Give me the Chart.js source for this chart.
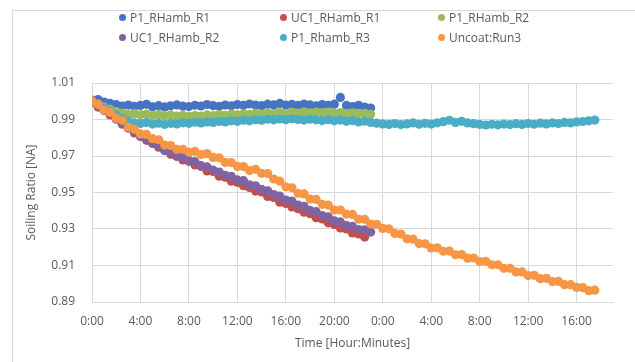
<!DOCTYPE html>
<html>
<head>
<meta charset="utf-8">
<script src="https://cdn.jsdelivr.net/npm/chart.js@4"></script>
<style>
  body { margin: 0; background: #fff; }
  #wrap { position: relative; width: 635px; height: 362px; overflow: hidden; font-family: "Open Sans", sans-serif; }
  #frame { position: absolute; left: 12px; top: 10px; width: 700px; height: 400px; border-left: 1px solid #d9d9d9; border-top: 1px solid #d9d9d9; }
  #legende { position: absolute; left: 119px; top: 7px; display: grid; grid-template-columns: 161px 158px 158px; grid-auto-rows: 20px; font-size: 12px; color: #595959; }
  .item { display: flex; align-items: center; white-space: nowrap; }
  .bola { width: 7px; height: 7px; border-radius: 50%; margin-right: 4px; }
  canvas { position: absolute; left: 0; top: 0; }
</style>
</head>
<body>
<div id="wrap">
  <div id="frame"></div>
  <canvas id="grafico" width="635" height="362"></canvas>
  <div id="legende"></div>
</div>
<script>
// leituras a cada meia hora (horas desde o início)
const passoHoras = 0.5;

const nomes = ["P1_RHamb_R1", "UC1_RHamb_R1", "P1_RHamb_R2", "UC1_RHamb_R2", "P1_Rhamb_R3", "Uncoat:Run3"];
const cores = ["#4674C1", "#C0504D", "#9BBB59", "#8064A2", "#4BACC6", "#F79646"];

const p1R1 = [1.0006, 1.0009, 0.9996, 0.9988, 0.9981, 0.9974, 0.9979, 0.9972, 0.9977, 0.9983,
  0.9970, 0.9976, 0.9969, 0.9975, 0.9980, 0.9973, 0.9971, 0.9978, 0.9974, 0.9982,
  0.9976, 0.9972, 0.9979, 0.9975, 0.9982, 0.9977, 0.9985, 0.9979, 0.9976, 0.9984,
  0.9980, 0.9988, 0.9979, 0.9983, 0.9977, 0.9985, 0.9980, 0.9975, 0.9982, 0.9978,
  0.9984, 1.0021, 0.9977, 0.9971, 0.9978, 0.9968, 0.9963];

const uc1R1 = [0.9995, 0.9968, 0.9953, 0.9925, 0.9906, 0.9874, 0.9855, 0.9826, 0.9809, 0.9786,
  0.9772, 0.9748, 0.9731, 0.9709, 0.9698, 0.9678, 0.9671, 0.9651, 0.9643, 0.9618,
  0.9615, 0.9589, 0.9584, 0.9562, 0.9556, 0.9537, 0.9528, 0.9508, 0.9503, 0.9478,
  0.9473, 0.9447, 0.9440, 0.9421, 0.9411, 0.9392, 0.9384, 0.9362, 0.9355, 0.9334,
  0.9325, 0.9306, 0.9300, 0.9278, 0.9273, 0.9256];

const p1R2 = [1.0000, 0.9985, 0.9968, 0.9955, 0.9943, 0.9935, 0.9928, 0.9932, 0.9926, 0.9930,
  0.9922, 0.9927, 0.9920, 0.9925, 0.9918, 0.9923, 0.9917, 0.9922, 0.9919, 0.9925,
  0.9921, 0.9927, 0.9923, 0.9929, 0.9925, 0.9931, 0.9928, 0.9934, 0.9930, 0.9936,
  0.9932, 0.9938, 0.9934, 0.9939, 0.9935, 0.9940, 0.9936, 0.9941, 0.9937, 0.9940,
  0.9935, 0.9938, 0.9933, 0.9936, 0.9931, 0.9934, 0.9929];

const uc1R2 = [0.9998, 0.9979, 0.9950, 0.9934, 0.9902, 0.9884, 0.9853, 0.9836, 0.9807, 0.9796,
  0.9769, 0.9759, 0.9730, 0.9723, 0.9699, 0.9694, 0.9675, 0.9669, 0.9647, 0.9640,
  0.9623, 0.9612, 0.9594, 0.9588, 0.9569, 0.9565, 0.9542, 0.9537, 0.9517, 0.9509,
  0.9489, 0.9480, 0.9459, 0.9453, 0.9431, 0.9424, 0.9402, 0.9395, 0.9374, 0.9366,
  0.9345, 0.9339, 0.9319, 0.9314, 0.9297, 0.9296, 0.9283];

const p1R3 = [0.9996, 0.9982, 0.9962, 0.9945, 0.9926, 0.9905, 0.9890, 0.9882, 0.9878, 0.9883,
  0.9875, 0.9880, 0.9873, 0.9879, 0.9876, 0.9882, 0.9879, 0.9885, 0.9881, 0.9887,
  0.9884, 0.9890, 0.9887, 0.9893, 0.9890, 0.9896, 0.9893, 0.9899, 0.9896, 0.9902,
  0.9898, 0.9903, 0.9899, 0.9904, 0.9900, 0.9897, 0.9902, 0.9898, 0.9894, 0.9899,
  0.9893, 0.9897, 0.9890, 0.9894, 0.9887, 0.9891, 0.9884, 0.9880, 0.9876, 0.9873,
  0.9878, 0.9872, 0.9876, 0.9881, 0.9874, 0.9879, 0.9875, 0.9882, 0.9888, 0.9896,
  0.9884, 0.9890, 0.9881, 0.9877, 0.9873, 0.9870, 0.9874, 0.9871, 0.9875, 0.9872,
  0.9877, 0.9873, 0.9878, 0.9874, 0.9880, 0.9876, 0.9881, 0.9878, 0.9884, 0.9881,
  0.9887, 0.9889, 0.9893, 0.9897];

const uncoat = [1.0002, 0.9983, 0.9952, 0.9939, 0.9907, 0.9896, 0.9858, 0.9847, 0.9821, 0.9818,
  0.9795, 0.9789, 0.9760, 0.9757, 0.9736, 0.9737, 0.9720, 0.9725, 0.9708, 0.9713,
  0.9692, 0.9690, 0.9665, 0.9664, 0.9643, 0.9642, 0.9620, 0.9627, 0.9605, 0.9604,
  0.9574, 0.9562, 0.9531, 0.9526, 0.9496, 0.9492, 0.9464, 0.9462, 0.9435, 0.9431,
  0.9404, 0.9404, 0.9382, 0.9380, 0.9354, 0.9353, 0.9327, 0.9326, 0.9303, 0.9301,
  0.9276, 0.9272, 0.9246, 0.9244, 0.9220, 0.9219, 0.9196, 0.9197, 0.9178, 0.9179,
  0.9159, 0.9160, 0.9140, 0.9141, 0.9122, 0.9123, 0.9104, 0.9104, 0.9085, 0.9085,
  0.9065, 0.9065, 0.9045, 0.9046, 0.9028, 0.9030, 0.9012, 0.9013, 0.8995, 0.8995,
  0.8980, 0.8979, 0.8962, 0.8965];

const series = [p1R1, uc1R1, p1R2, uc1R2, p1R3, uncoat];
// ordem de desenho: a última série do Excel fica por cima
const ordem = [5, 4, 3, 2, 1, 0];

// eixos
const eixoX = { min: 0, max: 43, passo: 4 };
const eixoY = { min: 0.89, max: 1.01, passo: 0.02 };
const tituloX = "Time [Hour:Minutes]";
const tituloY = "Soiling Ratio [NA]";

function pontos(valores) {
  return valores.map((v, i) => ({ x: i * passoHoras, y: v }));
}

const fonte = { family: "'Open Sans', sans-serif", size: 12 };
const cinza = "#595959";
const grade = "#d9d9d9";

const ctx = document.getElementById("grafico").getContext("2d");
const grafico = new Chart(ctx, {
  type: "scatter",
  data: {
    datasets: series.map((s, i) => ({
      label: nomes[i],
      data: pontos(s),
      backgroundColor: cores[i],
      borderColor: cores[i],
      pointRadius: 4.6,
      pointBorderWidth: 0,
      pointHoverRadius: 4.6,
      order: ordem[i],
    })),
  },
  options: {
    responsive: false,
    animation: false,
    devicePixelRatio: 1,
    layout: { padding: { left: 20, right: 22, top: 83, bottom: 7 } },
    plugins: {
      legend: { display: false },
      tooltip: { enabled: false },
    },
    scales: {
      x: {
        type: "linear",
        min: eixoX.min,
        max: eixoX.max,
        grid: { color: grade, drawTicks: false },
        border: { color: grade },
        ticks: {
          stepSize: eixoX.passo,
          includeBounds: false,
          maxRotation: 0,
          autoSkip: false,
          padding: 12,
          color: cinza,
          font: fonte,
          callback: (v) => (v % 24) + ":00",
        },
        title: { display: true, text: tituloX, color: cinza, font: fonte, padding: { top: 4, bottom: 4 } },
        afterFit: (escala) => { escala.height = 53; },
      },
      y: {
        min: eixoY.min,
        max: eixoY.max,
        grid: { color: grade, drawTicks: false },
        border: { display: false },
        ticks: {
          stepSize: eixoY.passo,
          padding: 17,
          color: cinza,
          font: fonte,
          callback: (v) => v.toFixed(2),
        },
        title: { display: true, text: tituloY, color: cinza, font: fonte, padding: { top: 4, bottom: 4 } },
        afterFit: (escala) => { escala.width = 72; },
      },
    },
  },
});

// legenda no estilo do Excel, em três colunas
const legende = document.getElementById("legende");
nomes.forEach((nome, i) => {
  const item = document.createElement("div");
  item.className = "item";
  const bola = document.createElement("span");
  bola.className = "bola";
  bola.style.background = cores[i];
  item.appendChild(bola);
  item.appendChild(document.createTextNode(nome));
  legende.appendChild(item);
});
</script>
</body>
</html>
